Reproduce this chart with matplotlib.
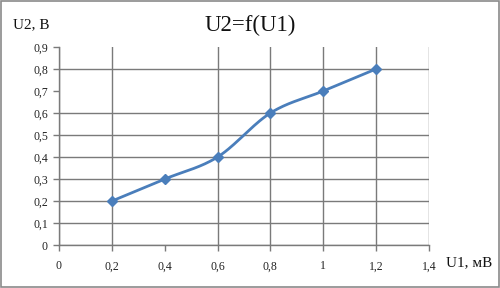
import numpy as np
import matplotlib
matplotlib.use("Agg")
import matplotlib.pyplot as plt
from matplotlib.patches import Rectangle

x_vals = [0.2, 0.4, 0.6, 0.8, 1.0, 1.2]
y_vals = [0.2, 0.3, 0.4, 0.6, 0.7, 0.8]
x_ticks = [0, 0.2, 0.4, 0.6, 0.8, 1.0, 1.2, 1.4]
x_labels = ["0", "0,2", "0,4", "0,6", "0,8", "1", "1,2", "1,4"]
y_ticks = [0, 0.1, 0.2, 0.3, 0.4, 0.5, 0.6, 0.7, 0.8, 0.9]
y_labels = ["0", "0,1", "0,2", "0,3", "0,4", "0,5", "0,6", "0,7", "0,8", "0,9"]
title = "U2=f(U1)"
x_title = "U1, мВ"
y_title = "U2, В"

plt.rcParams['font.family'] = ['Liberation Serif', 'DejaVu Serif']

fig = plt.figure(figsize=(5, 2.88), dpi=100)
ax = fig.add_axes([0.118, 0.149, 0.740, 0.688])

# smoothed curve (Bezier like Excel smoothing)
P = np.column_stack([x_vals, y_vals])
n = len(P)
curve = []
for i in range(n - 1):
    p0 = P[i - 1] if i > 0 else P[i]
    p1 = P[i]
    p2 = P[i + 1]
    p3 = P[i + 2] if i + 2 < n else P[i + 1]
    c1 = p1 + (p2 - p0) / 6.0
    c2 = p2 - (p3 - p1) / 6.0
    t = np.linspace(0, 1, 30)[:, None]
    seg = ((1 - t) ** 3) * p1 + 3 * ((1 - t) ** 2) * t * c1 + 3 * (1 - t) * t ** 2 * c2 + t ** 3 * p2
    curve.append(seg)
curve = np.vstack(curve)
color = "#4A7EBB"
ax.plot(curve[:, 0], curve[:, 1], color=color, lw=2.0, solid_capstyle='round', zorder=3)
ax.plot(x_vals, y_vals, linestyle='none', marker='D', markersize=5.5, color=color, zorder=4)

ax.set_xlim(0, 1.4)
ax.set_ylim(0, 0.9)
ax.set_xticks(x_ticks)
ax.set_xticklabels(x_labels)
ax.set_yticks(y_ticks)
ax.set_yticklabels(y_labels)
ax.tick_params(axis='both', labelsize=8.5, colors='#7a7a7a', length=4, width=1, labelcolor='#222222', pad=7)
ax.tick_params(axis='y', pad=4)

ax.grid(True, color='#7a7a7a', lw=1)
ax.set_axisbelow(True)
# gridlines absent in reference
ax.get_xgridlines()[2].set_visible(False)
ax.get_ygridlines()[7].set_visible(False)
ax.get_ygridlines()[9].set_visible(False)

for s in ['top', 'right']:
    ax.spines[s].set_visible(False)
for s in ['left', 'bottom']:
    ax.spines[s].set_color('#7a7a7a')
    ax.spines[s].set_linewidth(1)

fig.text(0.5, 0.913, title, ha='center', va='center', fontsize=16.5, color='#111111')
fig.text(0.026, 0.913, y_title, ha='left', va='center', fontsize=11, color='#111111')
fig.text(0.893, 0.087, x_title, ha='left', va='center', fontsize=11, color='#111111')

fig.patches.append(Rectangle((0.002, 0.003), 0.995, 0.993, transform=fig.transFigure,
                             fill=False, edgecolor='#8a8a8a', lw=1.2))

fig.savefig("out.png", dpi=100)
